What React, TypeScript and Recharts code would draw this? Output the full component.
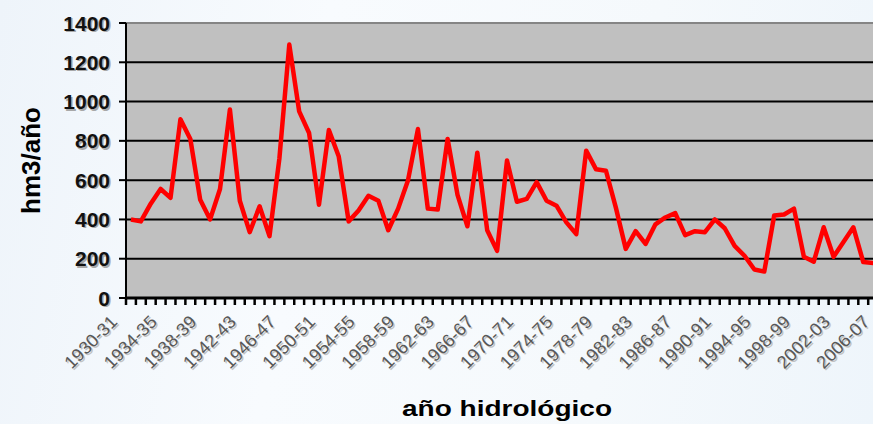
import React from 'react';
import { LineChart, Line, XAxis, YAxis, CartesianGrid, ReferenceLine, Label } from 'recharts';

const years = [
  '1930-31', '1931-32', '1932-33', '1933-34', '1934-35', '1935-36', '1936-37', '1937-38', '1938-39', '1939-40',
  '1940-41', '1941-42', '1942-43', '1943-44', '1944-45', '1945-46', '1946-47', '1947-48', '1948-49', '1949-50',
  '1950-51', '1951-52', '1952-53', '1953-54', '1954-55', '1955-56', '1956-57', '1957-58', '1958-59', '1959-60',
  '1960-61', '1961-62', '1962-63', '1963-64', '1964-65', '1965-66', '1966-67', '1967-68', '1968-69', '1969-70',
  '1970-71', '1971-72', '1972-73', '1973-74', '1974-75', '1975-76', '1976-77', '1977-78', '1978-79', '1979-80',
  '1980-81', '1981-82', '1982-83', '1983-84', '1984-85', '1985-86', '1986-87', '1987-88', '1988-89', '1989-90',
  '1990-91', '1991-92', '1992-93', '1993-94', '1994-95', '1995-96', '1996-97', '1997-98', '1998-99', '1999-00',
  '2000-01', '2001-02', '2002-03', '2003-04', '2004-05', '2005-06', '2006-07',
];

const flows = [
  400, 390, 480, 555, 510, 910, 810, 500, 400, 555,
  960, 495, 335, 467, 315, 710, 1290, 950, 840, 475,
  855, 720, 390, 445, 520, 495, 345, 455, 600, 860,
  455, 450, 810, 525, 365, 740, 345, 240, 700, 490,
  505, 590, 495, 470, 385, 325, 750, 655, 648, 460,
  250, 340, 275, 375, 410, 432, 320, 340, 335, 400,
  355, 265, 215, 145, 135, 420, 425, 455, 210, 185,
  360, 210, 285, 360, 183, 178, 175,
];

const yTicks = [0, 200, 400, 600, 800, 1000, 1200, 1400];
const xTitle = 'año hidrológico';
const yTitle = 'hm3/año';

const data = years.map((year, i) => ({ year, v: flows[i] }));

const PLOT_W = 762;
const BAND = PLOT_W / years.length;
const FONT = '"Liberation Sans", Arial, sans-serif';

const XTick = (props: any) => {
  const { x, y, index, payload } = props;
  const half = BAND / 2;
  const show = index % 4 === 0;
  const ax = x - 12.5;
  const ay = y + 25;
  return (
    <g>
      <line x1={x - half} y1={y} x2={x - half} y2={y + 7} stroke="#000" strokeWidth={2.5} />
      {index === years.length - 1 && (
        <line x1={x + half} y1={y} x2={x + half} y2={y + 7} stroke="#000" strokeWidth={2.5} />
      )}
      {show && (
        <g>
          <text x={ax + 1.5} y={ay + 1.5} transform={`rotate(-45, ${ax + 1.5}, ${ay + 1.5})`} textAnchor="end"
            fill="#c2c2c2" fontSize={18} fontFamily={FONT}>
            {payload.value}
          </text>
          <text x={ax} y={ay} transform={`rotate(-45, ${ax}, ${ay})`} textAnchor="end"
            fill="#585858" fontSize={18} fontFamily={FONT}>
            {payload.value}
          </text>
        </g>
      )}
    </g>
  );
};

const YTick = (props: any) => {
  const { x, y, payload } = props;
  return (
    <g>
      <text x={x + 1.5} y={y + 1.5} textAnchor="end" dominantBaseline="central" fill="#a8a8a8"
        fontSize={21} fontWeight="bold" fontFamily={FONT}>
        {payload.value}
      </text>
      <text x={x} y={y} textAnchor="end" dominantBaseline="central" fill="#111"
        fontSize={21} fontWeight="bold" fontFamily={FONT}>
        {payload.value}
      </text>
    </g>
  );
};

const YTitle = (props: any) => {
  const vb = props.viewBox || { x: 0, y: 23, width: 126, height: 275 };
  const cx = 31;
  const cy = vb.y + vb.height / 2;
  return (
    <g transform={`translate(${cx},${cy}) rotate(-90)`}>
      <text textAnchor="middle" dominantBaseline="central" fill="#000" fontSize={26}
        fontWeight="bold" fontFamily={FONT}>
        {yTitle}
      </text>
    </g>
  );
};

const XTitle = (props: any) => {
  const vb = props.viewBox || { x: 126, y: 298, width: PLOT_W, height: 126 };
  const cx = vb.x + vb.width / 2;
  const cy = vb.y + 118;
  return (
    <text x={cx} y={cy} textAnchor="middle" fill="#000" fontSize={22} fontWeight="bold"
      fontFamily={FONT} textLength={210} lengthAdjust="spacingAndGlyphs">
      {xTitle}
    </text>
  );
};

export default function App() {
  return (
    <div
      style={{
        position: 'absolute',
        left: 0,
        top: 0,
        width: 873,
        height: 424,
        overflow: 'hidden',
        background: 'linear-gradient(100deg, #eef4fa 0%, #f8fbfe 35%, #f5f9fc 70%, #eef5fb 100%)',
      }}
    >
      <LineChart
        width={126 + PLOT_W + 12}
        height={424}
        data={data}
        margin={{ top: 23, right: 12, bottom: 0, left: 0 }}
      >
        <CartesianGrid vertical={false} stroke="#000" strokeWidth={2} fill="#c0c0c0" />
        <XAxis
          dataKey="year"
          interval={0}
          height={126}
          padding={{ left: BAND / 2, right: BAND / 2 }}
          tickLine={false}
          tickSize={0}
          tickMargin={0}
          axisLine={{ stroke: '#000', strokeWidth: 3 }}
          tick={<XTick />}
        >
          <Label content={<XTitle />} />
        </XAxis>
        <YAxis
          width={126}
          domain={[0, 1400]}
          ticks={yTicks}
          interval={0}
          tickSize={7}
          tickMargin={9}
          tickLine={{ stroke: '#000', strokeWidth: 2 }}
          axisLine={{ stroke: '#000', strokeWidth: 2 }}
          tick={<YTick />}
        >
          <Label content={<YTitle />} />
        </YAxis>
        <ReferenceLine y={1400} stroke="#858585" strokeWidth={2} />
        <Line
          type="linear"
          dataKey="v"
          stroke="#ff0000"
          strokeWidth={4.5}
          strokeLinejoin="round"
          dot={false}
          activeDot={false}
          isAnimationActive={false}
        />
      </LineChart>
    </div>
  );
}
